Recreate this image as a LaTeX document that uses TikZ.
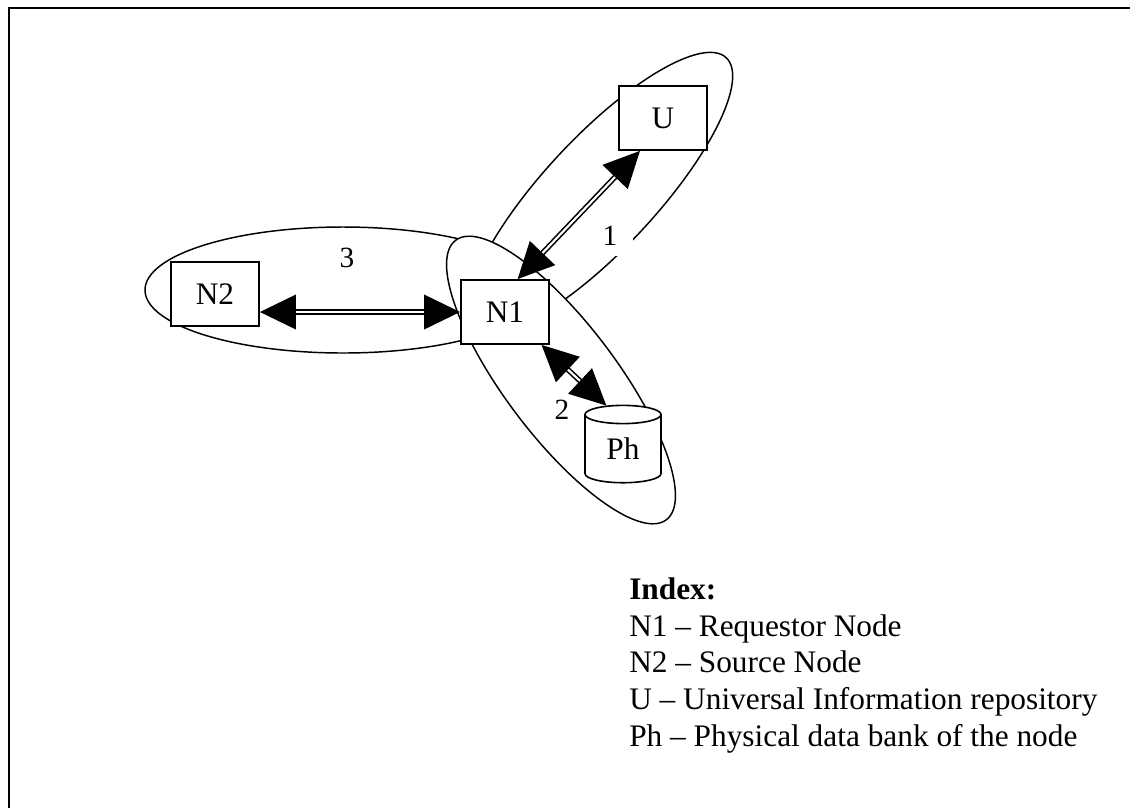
\documentclass[tikz,border=0pt]{standalone}
\usepackage{fontspec}
\setmainfont{Liberation Serif}
\usetikzlibrary{shapes.geometric, arrows.meta}
\tikzset{
  box/.style={draw, fill=white, line width=1.4pt, minimum width=66pt,
    minimum height=48pt, inner sep=0pt, font=\fontsize{23.5pt}{27pt}\selectfont},
  store/.style={cylinder, shape border rotate=90, aspect=0.55, draw, fill=white,
    line width=1.2pt, minimum width=57pt, minimum height=58pt, inner sep=0pt,
    font=\fontsize{23.5pt}{27pt}\selectfont},
  zone/.style={draw, fill=white, line width=1.1pt},
  link/.style={double, double distance=1.6pt, line width=1.2pt,
    {Triangle[length=27pt,width=26pt]}-{Triangle[length=27pt,width=26pt]}},
  num/.style={fill=white, inner sep=1pt, font=\fontsize{22pt}{26pt}\selectfont}
}

\begin{document}
\begin{tikzpicture}[x=0.75pt, y=-0.75pt]
    \useasboundingbox (0,0) rectangle (1130,808);
    \draw[line width=1.5pt] (9,808) -- (9,8) -- (1130,8);
    % the three zones
    \draw[zone] (343,290) ellipse (198 and 63);
    \draw[zone, rotate around={47:(600,193)}] (600,193) ellipse (185 and 56);
    \draw[zone, rotate around={-53:(561,380)}] (561,380) ellipse (175 and 56);
    % nodes
    \node[box] (N1) at (505,312) {N1};
    \node[box] (N2) at (215,294) {N2};
    \node[box] (U) at (663,118) {U};
    \node[store] (Ph) at (623,449) {Ph};
    % links
    \draw[link] (N2.east |- N1.west) -- (N1.west);
    \draw[link] (N1.69) -- (U.235);
    \draw[link] (N1.-42) -- (Ph.111);
    \node[num, inner xsep=12pt, inner ysep=8pt] (lab1) at (610,236) {1};
    \node[num] (lab2) at (562,410) {2};
    \node[num] (lab3) at (347,258) {3};
    % index
    \node[anchor=base west, inner sep=0pt, align=left,
      font=\fontsize{23.5pt}{27.4pt}\selectfont] (index) at (629,746)
      {\textbf{Index:}\\
       N1 -- Requestor Node\\
       N2 -- Source Node\\
       U -- Universal Information repository\\
       Ph -- Physical data bank of the node};
\end{tikzpicture}
\end{document}
